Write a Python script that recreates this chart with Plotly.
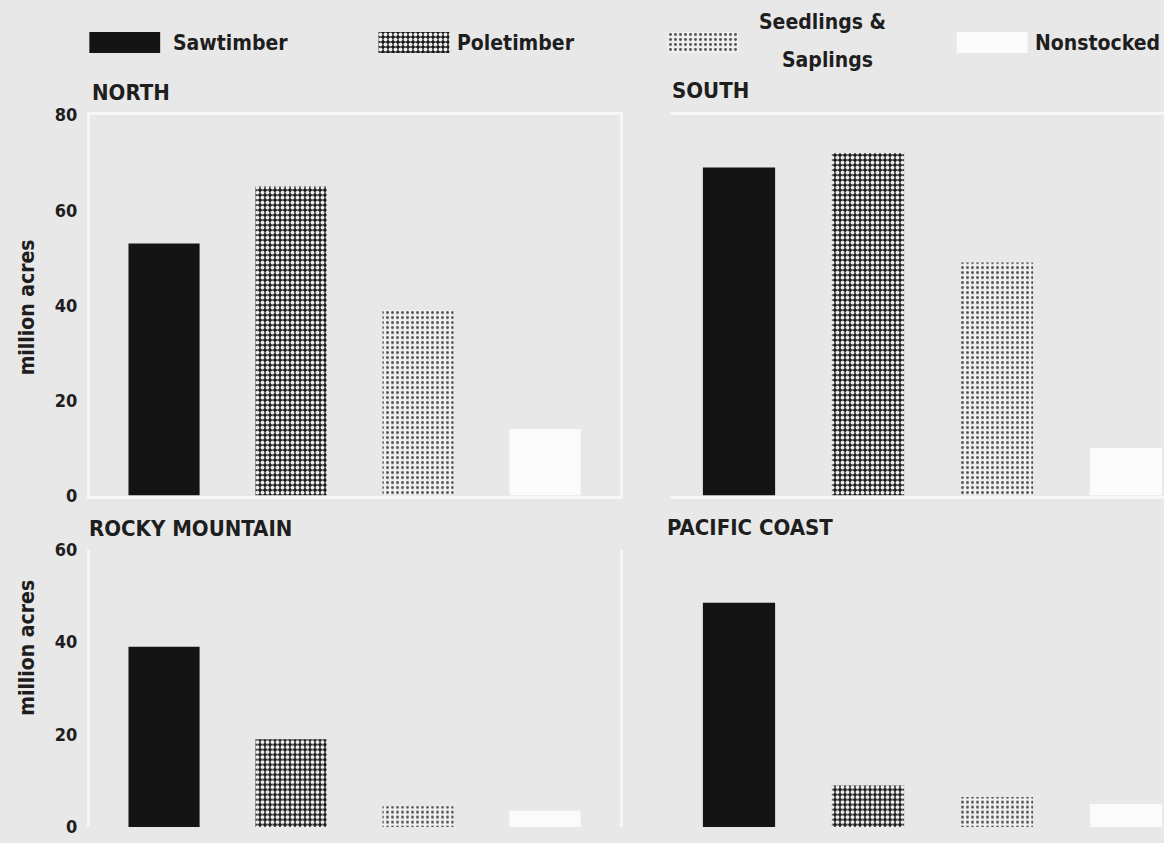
import plotly.graph_objects as go

# Forest land area by stand-size class, four regions (million acres)
series = ["Sawtimber", "Poletimber", "Seedlings & Saplings", "Nonstocked"]
regions = ["NORTH", "SOUTH", "ROCKY MOUNTAIN", "PACIFIC COAST"]
north = [53, 65, 39, 14]
south = [69, 72, 49, 10]
rocky_mountain = [39, 19, 4.5, 3.5]
pacific_coast = [48.5, 9, 6.5, 5]
top_ticks = [0, 20, 40, 60, 80]
bottom_ticks = [0, 20, 40, 60]
key_height = [1, 1, 1, 1]

W, H = 1164, 843
FONT = "DejaVu Sans Condensed, DejaVu Sans, sans-serif"
INK = "#1e1e1e"
BG = "#e8e8e8"
FRAME = "#f7f7f7"

# page rows occupied by the figure once it is on screen
TOP_ROW, BOTTOM_ROW = 11, 832


def px(x):
    return x / W


def py(y):
    f = (BOTTOM_ROW - y) / (BOTTOM_ROW - TOP_ROW)
    return min(1.0, max(0.0, f))


# fill style for each stand-size class
styles = [
    dict(color="#141414"),
    dict(color="#1c1c1c",
         pattern=dict(shape=".", fgcolor="#ececec", bgcolor="#1a1a1a",
                      size=5, solidity=0.5, fillmode="replace")),
    dict(color="#f0f0f0",
         pattern=dict(shape=".", fgcolor="#555555", bgcolor="#f0f0f0",
                      size=5, solidity=0.28, fillmode="replace")),
    dict(color="#fbfbfb"),
]

fig = go.Figure()

panels = [
    (north, "x", "y"),
    (south, "x2", "y2"),
    (rocky_mountain, "x3", "y3"),
    (pacific_coast, "x4", "y4"),
]
for vals, xa, ya in panels:
    for i, name in enumerate(series):
        fig.add_trace(go.Bar(
            x=[name], y=[vals[i]], name=name, width=0.56,
            marker=dict(line=dict(width=0), **styles[i]),
            xaxis=xa, yaxis=ya, showlegend=False, hoverinfo="x+y",
        ))

# key swatches drawn with the same fills
for i, name in enumerate(series):
    fig.add_trace(go.Bar(
        x=[name], y=[key_height[i]], width=0.245,
        marker=dict(line=dict(width=0), **styles[i]),
        xaxis="x5", yaxis="y5", showlegend=False, hoverinfo="skip",
    ))

frame = dict(showline=True, mirror=True, linecolor=FRAME, linewidth=3,
             showgrid=False, zeroline=False)

left_x = dict(domain=[px(90), px(620)], range=[-0.583, 3.59],
              type="category", categoryorder="array", categoryarray=series,
              showticklabels=False, ticks="", **frame)
right_x = dict(domain=[px(670), 1.0], range=[-0.535, 3.295],
               type="category", categoryorder="array", categoryarray=series,
               showticklabels=False, ticks="", **frame)
top_dom = [py(495), py(115)]
bot_dom = [py(826), py(549)]
tickfont = dict(family=FONT, size=18, color=INK, weight="bold")

fig.update_layout(
    width=W, height=H,
    margin=dict(l=0, r=0, t=0, b=0),
    paper_bgcolor=BG, plot_bgcolor=BG,
    barmode="overlay", showlegend=False,
    xaxis=left_x,
    yaxis=dict(domain=top_dom, range=[0, 80], tickvals=top_ticks,
               tickfont=tickfont, ticks="", ticklabelstandoff=6, **frame),
    xaxis2=right_x,
    yaxis2=dict(domain=top_dom, range=[0, 80], tickvals=top_ticks,
                showticklabels=False, ticks="", **frame),
    xaxis3=dict(left_x),
    yaxis3=dict(domain=bot_dom, range=[0, 60], tickvals=bottom_ticks,
                tickfont=tickfont, ticks="", ticklabelstandoff=6,
                ticklabeloverflow="allow", **frame),
    xaxis4=dict(right_x),
    yaxis4=dict(domain=bot_dom, range=[0, 60], tickvals=bottom_ticks,
                showticklabels=False, ticks="", **frame),
    xaxis5=dict(domain=[px(38), px(1079)], range=[-0.3, 3.3], type="category",
                categoryorder="array", categoryarray=series, visible=False),
    yaxis5=dict(domain=[py(53), py(32)], range=[0, 1], visible=False),
)

ann = []


def label(text, x, y, size=22, anchor="left", angle=0, weight="bold"):
    ann.append(dict(text=text, x=px(x), y=py(y), xref="paper", yref="paper",
                    xanchor=anchor, yanchor="middle", showarrow=False,
                    textangle=angle,
                    font=dict(family=FONT, size=size, color=INK,
                              weight=weight)))


# key labels
label("Sawtimber", 171, 43, size=21)
label("Poletimber", 455, 43, size=21)
label("Seedlings &", 822, 22, size=21, anchor="center")
label("Saplings", 827, 60, size=21, anchor="center")
label("Nonstocked", 1162, 43, size=21, anchor="right")

# region titles
label(regions[0], 90, 92)
label(regions[1], 670, 90)
label(regions[2], 87, 528)
label(regions[3], 665, 527)

# y-axis titles
label("million acres", 27, 307, size=21, anchor="center", angle=-90)
label("million acres", 27, 647, size=21, anchor="center", angle=-90)

fig.update_layout(annotations=ann)
fig.write_html(
    "out.html",
    post_script="document.body.style.margin='0';"
                "document.body.style.background='%s';" % BG,
)
